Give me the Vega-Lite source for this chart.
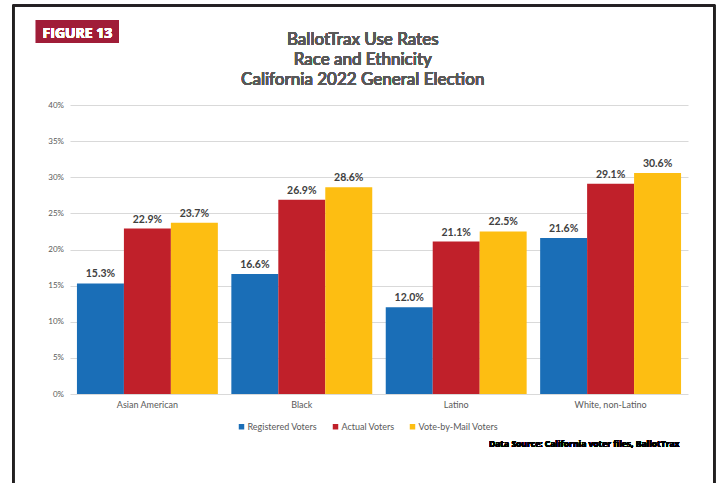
{
  "$schema": "https://vega.github.io/schema/vega-lite/v6.json",
  "width": 618,
  "height": 289,
  "autosize": {"type": "none"},
  "padding": {"left": 70, "top": 105, "right": 32, "bottom": 89},
  "background": "white",
  "config": {
    "view": {"stroke": null},
    "font": "Lato"
  },
  "datasets": {
    "rates": [
      {"group": "Asian American", "series": "Registered Voters", "value": 0.153},
      {"group": "Asian American", "series": "Actual Voters", "value": 0.229},
      {"group": "Asian American", "series": "Vote-by-Mail Voters", "value": 0.237},
      {"group": "Black", "series": "Registered Voters", "value": 0.166},
      {"group": "Black", "series": "Actual Voters", "value": 0.269},
      {"group": "Black", "series": "Vote-by-Mail Voters", "value": 0.286},
      {"group": "Latino", "series": "Registered Voters", "value": 0.120},
      {"group": "Latino", "series": "Actual Voters", "value": 0.211},
      {"group": "Latino", "series": "Vote-by-Mail Voters", "value": 0.225},
      {"group": "White, non-Latino", "series": "Registered Voters", "value": 0.216},
      {"group": "White, non-Latino", "series": "Actual Voters", "value": 0.291},
      {"group": "White, non-Latino", "series": "Vote-by-Mail Voters", "value": 0.306}
    ]
  },
  "data": {"name": "rates"},
  "layer": [
    {
      "mark": {"type": "bar"},
      "encoding": {
        "x": {
          "field": "group", "type": "nominal",
          "scale": {"domain": ["Asian American", "Black", "Latino", "White, non-Latino"], "paddingInner": 0.0874, "paddingOuter": 0.045},
          "axis": {
            "title": null, "domain": false, "ticks": false, "tickSize": 0,
            "labelAngle": 0, "labelPadding": 6, "labelFontSize": 9, "labelColor": "#595959", "labelFont": "Lato"
          }
        },
        "xOffset": {
          "field": "series", "type": "nominal",
          "scale": {"domain": ["Registered Voters", "Actual Voters", "Vote-by-Mail Voters"], "paddingInner": 0, "paddingOuter": 0}
        },
        "y": {
          "field": "value", "type": "quantitative",
          "scale": {"domain": [0, 0.4], "nice": false, "zero": true},
          "axis": {
            "title": null, "format": ".0%", "tickCount": 9, "tickMinStep": 0.05, "labelOverlap": false, "labelBound": false,
            "domain": false, "ticks": false, "tickSize": 0, "labelPadding": 6.5,
            "labelFontSize": 8, "labelColor": "#595959", "labelFont": "Lato",
            "gridColor": "#d9d9d9", "gridWidth": 1
          }
        },
        "color": {
          "field": "series", "type": "nominal",
          "scale": {"domain": ["Registered Voters", "Actual Voters", "Vote-by-Mail Voters"], "range": ["#1a6eb7", "#c0202a", "#fdbe12"]},
          "legend": {
            "title": null, "orient": "none", "direction": "horizontal",
            "legendX": 167, "legendY": 317, "padding": 0,
            "symbolType": "square", "symbolSize": 30, "symbolStrokeWidth": 0,
            "labelFontSize": 9, "labelColor": "#595959", "labelFont": "Lato",
            "labelOffset": 1.5, "columnPadding": 13
          }
        }
      }
    },
    {
      "mark": {"type": "text", "baseline": "alphabetic", "dy": -6, "fontSize": 10.5, "fontWeight": "bold", "font": "Lato", "color": "#404040"},
      "encoding": {
        "x": {"field": "group", "type": "nominal"},
        "xOffset": {"field": "series", "type": "nominal"},
        "y": {"field": "value", "type": "quantitative"},
        "text": {"field": "value", "type": "quantitative", "format": ".1%"}
      }
    },
    {
      "mark": {"type": "point", "shape": "M-63.5,-388.5H637.5V110H-63.5Z", "filled": false, "stroke": "#231f20", "strokeWidth": 1.5, "opacity": 1},
      "encoding": {
        "x": {"datum": "Asian American", "bandPosition": 0},
        "y": {"datum": 0},
        "size": {"value": 4}
      }
    },
    {
      "mark": {"type": "point", "shape": "M-41,-12.75H42V10.25H-41Z", "filled": true, "fill": "#a01d38", "strokeWidth": 0, "opacity": 1},
      "encoding": {
        "x": {"datum": "Asian American", "bandPosition": 0},
        "y": {"datum": 0.5},
        "size": {"value": 4}
      }
    },
    {
      "mark": {"type": "text", "text": "FIGURE 13", "align": "center", "baseline": "alphabetic", "dx": 0.5, "dy": 5.5, "fontSize": 14, "fontWeight": "bold", "font": "Open Sans", "color": "white"},
      "encoding": {
        "x": {"datum": "Asian American", "bandPosition": 0},
        "y": {"datum": 0.5}
      }
    },
    {
      "mark": {"type": "text", "text": ["BallotTrax Use Rates", "Race and Ethnicity", "California 2022 General Election"], "align": "center", "baseline": "alphabetic", "dx": -9.5, "lineHeight": 20.2, "fontSize": 17, "fontWeight": 500, "font": "Lato", "color": "#595959"},
      "encoding": {
        "x": {"datum": "Black", "bandPosition": 1},
        "y": {"datum": 0.483}
      }
    },
    {
      "mark": {"type": "text", "text": "Data Source: California voter files, BallotTrax", "align": "right", "baseline": "alphabetic", "dx": -1.5, "fontSize": 8.5, "fontWeight": "bold", "font": "Open Sans", "color": "#000000"},
      "encoding": {
        "x": {"datum": "White, non-Latino", "bandPosition": 1},
        "y": {"datum": -0.0734}
      }
    }
  ]
}
